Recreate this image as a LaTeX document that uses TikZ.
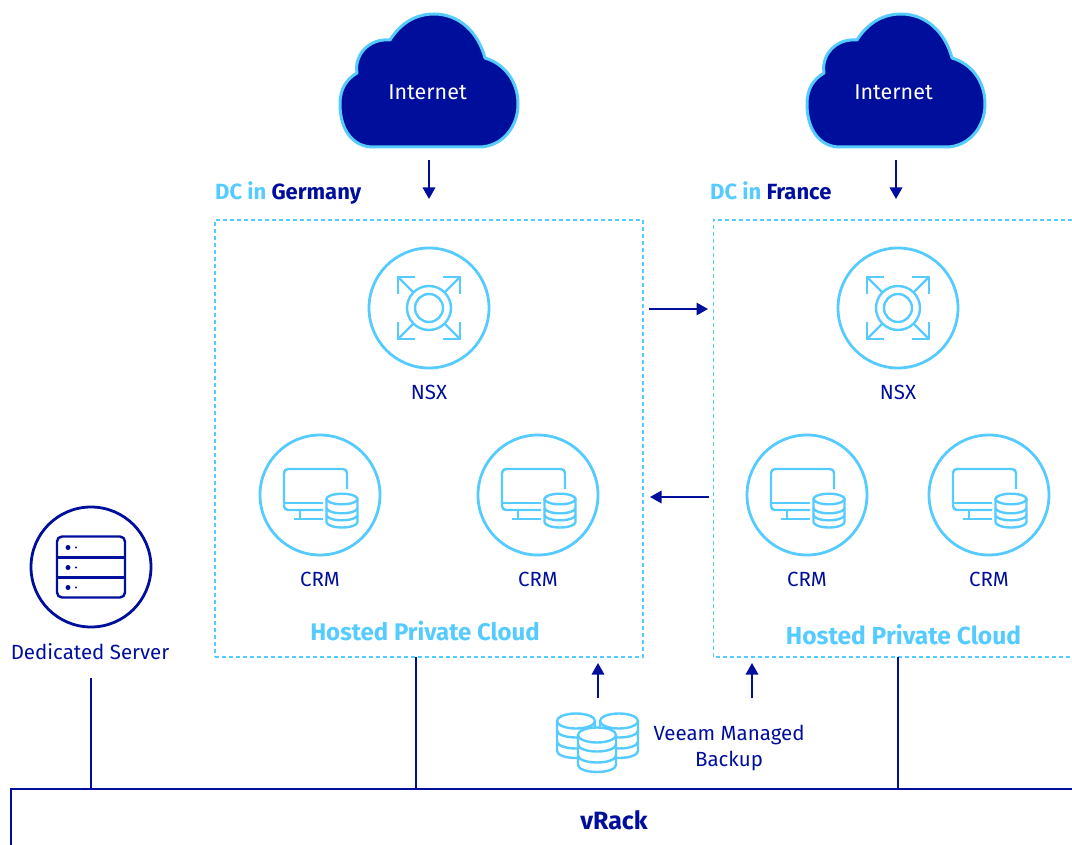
\documentclass[tikz,border=0pt]{standalone}
\usepackage{fontspec}
\setmainfont{Fira Sans}
\usetikzlibrary{arrows.meta}
\definecolor{navy}{HTML}{000E9C}
\definecolor{sky}{HTML}{55CBFF}
\tikzset{
  x=1pt,y=-1pt,
  lbl/.style={text=navy,font=\fontsize{20.5}{26}\selectfont,align=center,inner sep=0pt},
  inet/.style={text=white,font=\fontsize{21.5}{24}\selectfont,inner sep=0pt},
  hpc/.style={text=sky,font=\fontsize{24}{28}\selectfont\bfseries,anchor=base,inner sep=0pt},
  hpcwide/.style={hpc,font=\fontsize{24.6}{28}\selectfont\bfseries},
  dc/.style={anchor=base west,font=\fontsize{22}{26}\selectfont\bfseries,inner sep=0pt},
  ring/.style={circle,draw=sky,line width=2.8pt,minimum size=120pt,inner sep=0pt},
  darkring/.style={circle,draw=navy,line width=2.8pt,minimum size=120pt,inner sep=0pt},
  zone/.style={draw=sky,line width=1.3pt,dash pattern=on 4pt off 3pt},
  wire/.style={draw=navy,line width=1.8pt},
  flow/.style={draw=navy,line width=1.7pt,-{Triangle[length=11.5pt,width=12.5pt]}},
  icon/.style={draw=sky,line width=2.4pt},
  cloudshape/.pic={
    \draw[fill=navy,draw=sky,line width=3pt,line join=round]
      (-56,57) .. controls (-76,57) and (-89,40) .. (-89,14)
      .. controls (-89,-2) and (-82,-11) .. (-72,-17)
      .. controls (-75,-35) and (-60,-52) .. (-39,-50)
      .. controls (-29,-66) and (-14,-76) .. (5,-76)
      .. controls (30,-76) and (49,-58) .. (56,-32)
      .. controls (76,-26) and (89,-8) .. (89,14)
      .. controls (89,38) and (72,57) .. (50,57) -- cycle;
  },
  nsxicon/.pic={
    \draw[icon] (0,0) circle (14);
    \draw[icon] (0,0) circle (22);
    \foreach \sx/\sy in {-1/-1,1/-1,-1/1,1/1}{
      \draw[icon,line join=miter] (\sx*14,\sy*31) -- (\sx*31,\sy*31) -- (\sx*31,\sy*14);
      \draw[icon] (\sx*31,\sy*31) -- (\sx*16,\sy*16);
    }
  },
  dbcyl/.pic={
    \draw[icon,fill=white] (-15.5,0) -- (-15.5,23) arc[start angle=180,end angle=0,x radius=15.5,y radius=5.5] -- (15.5,0);
    \draw[icon,fill=white] (0,0) ellipse[x radius=15.5,y radius=5.3];
    \draw[icon] (-15.5,9) arc[start angle=180,end angle=0,x radius=15.5,y radius=5.3];
    \draw[icon] (-15.5,16) arc[start angle=180,end angle=0,x radius=15.5,y radius=5.3];
  },
  crmicon/.pic={
    \draw[icon,rounded corners=4pt] (27,-6) -- (27,-26) -- (-36,-26) -- (-36,15) -- (3,15);
    \draw[icon] (-36,8) -- (3,8);
    \draw[icon] (-20,15) -- (-20,24);
    \draw[icon] (-26,24) -- (3,24);
    \pic at (22,4) {dbcyl};
  },
  servericon/.pic={
    \draw[draw=navy,line width=2.4pt,rounded corners=5pt] (-34,-30.5) rectangle (34,30.5);
    \draw[draw=navy,line width=2.4pt] (-34,-9.5) -- (34,-9.5) (-34,10.5) -- (34,10.5);
    \foreach \yy in {-19.5,0.5,20.5}{
      \fill[navy] (-23,\yy) circle (2.5);
      \fill[navy] (-15,\yy) circle (1.2);
    }
  },
  bigcyl/.pic={
    \draw[icon,fill=white] (-19,0) -- (-19,30) arc[start angle=180,end angle=0,x radius=19,y radius=7] -- (19,0);
    \draw[icon,fill=white] (0,0) ellipse[x radius=19,y radius=7.5];
    \draw[icon] (-19,9.5) arc[start angle=180,end angle=0,x radius=19,y radius=7];
    \draw[icon] (-19,20.5) arc[start angle=180,end angle=0,x radius=19,y radius=7];
  },
}
\begin{document}
\begin{tikzpicture}[x=1pt,y=-1pt]
\useasboundingbox (0,0) rectangle (1072,845);
% clouds
\pic at (429,90) {cloudshape};
\pic at (896,90) {cloudshape};
\node[inet] (inetde) at (427.5,92) {Internet};
\node[inet] (inetfr) at (893.5,92) {Internet};
% data centre zones
\node[inner sep=0pt,minimum width=428pt,minimum height=437pt,zone] (zonede) at (429,438.5) {};
\coordinate (zonefrtr) at (1072,220);
\coordinate (zonefrtl) at (713.5,220);
\coordinate (zonefrbl) at (713.5,657);
\coordinate (zonefrbr) at (1072,657);
\draw[zone] (zonefrtr) -- (zonefrtl) -- (zonefrbl) -- (zonefrbr);
\node[dc] (dcde) at (215,200) {\textcolor{sky}{DC in} \textcolor{navy}{Germany}};
\node[dc] (dcfr) at (710,200) {\textcolor{sky}{DC in} \textcolor{navy}{France}};
% NSX
\node[ring] (nsxde) at (429,308) {};
\node[ring] (nsxfr) at (898,308) {};
\pic at (nsxde) {nsxicon};
\pic at (nsxfr) {nsxicon};
\node[lbl] (nsxdel) at (429,392) {NSX};
\node[lbl] (nsxfrl) at (898,392) {NSX};
% CRM
\foreach \nm/\cx in {a/320,b/538,c/807,d/989}{
  \node[ring] (crm\nm) at (\cx,495) {};
  \pic at (crm\nm) {crmicon};
  \node[lbl] (crm\nm l) at (\cx,579) {CRM};
}
\node[hpc] (hpcde) at (425,640) {Hosted Private Cloud};
\node[hpcwide] (hpcfr) at (903.5,644) {Hosted Private Cloud};
% server
\node[darkring] (srv) at (91,567) {};
\pic at (srv) {servericon};
\node[lbl] (srvl) at (90,652) {Dedicated Server};
% backup
\pic at (576,721) {bigcyl};
\pic at (619,721) {bigcyl};
\pic at (597,735) {bigcyl};
\node[lbl] (veeam) at (729,747.5) {Veeam Managed\\Backup};
% vRack
\coordinate (rackbl) at (11,845);
\coordinate (racktl) at (11,789);
\coordinate (racktr) at (1072,789);
\draw[wire] (rackbl) -- (racktl) -- (racktr);
\node[text=navy,font=\fontsize{25}{28}\selectfont\bfseries,inner sep=0pt] (vrack) at (614,820.5) {vRack};
% connectors
\coordinate (srvdown) at (91,678);
\coordinate (srvrack) at (91,789);
\coordinate (derack) at (416,789);
\coordinate (deup) at (416,657);
\coordinate (frrack) at (898,789);
\coordinate (frup) at (898,657);
\draw[wire] (srvdown) -- (srvrack);
\draw[wire] (deup) -- (derack);
\draw[wire] (frup) -- (frrack);
\coordinate (a1s) at (429,160); \coordinate (a1e) at (429,199);
\coordinate (a2s) at (896,160); \coordinate (a2e) at (896,199);
\coordinate (a3s) at (649,309); \coordinate (a3e) at (708,309);
\coordinate (a4s) at (709,497); \coordinate (a4e) at (650,497);
\coordinate (a5s) at (598,698); \coordinate (a5e) at (598,663);
\coordinate (a6s) at (752,698); \coordinate (a6e) at (752,663);
\foreach \s/\e in {a1s/a1e,a2s/a2e,a3s/a3e,a4s/a4e,a5s/a5e,a6s/a6e}{
  \draw[flow] (\s) -- (\e);
}
\end{tikzpicture}
\end{document}
